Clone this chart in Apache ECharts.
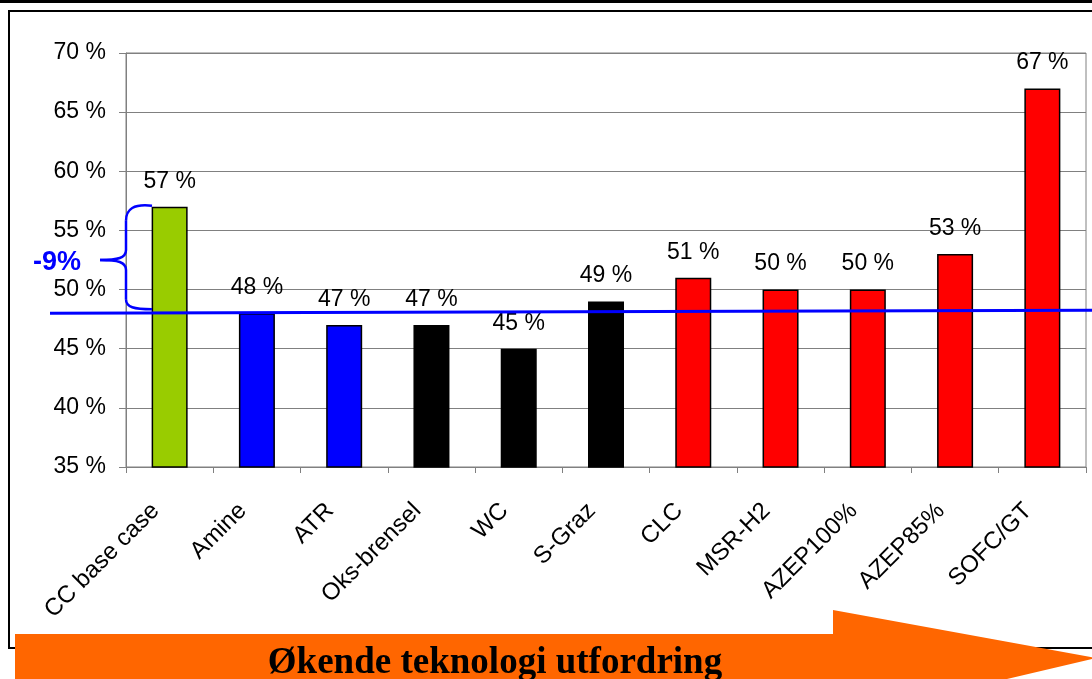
<!DOCTYPE html>
<html>
<head>
<meta charset="utf-8">
<script src="https://cdn.jsdelivr.net/npm/echarts@6/dist/echarts.min.js"></script>
<style>html,body{margin:0;padding:0;background:#fff}#c{width:1092px;height:679px}</style>
</head>
<body>
<div id="c"></div>
<script>
const categories = ['CC base case','Amine','ATR','Oks-brensel','WC','S-Graz','CLC','MSR-H2','AZEP100%','AZEP85%','SOFC/GT'];
const values = [57,48,47,47,45,49,51,50,50,53,67];
const barColors = ['#99CC00','#0000FF','#0000FF','#000000','#000000','#000000','#FF0000','#FF0000','#FF0000','#FF0000','#FF0000'];
const yTicks = [35,40,45,50,55,60,65,70];
const refLevel = 48;
const baseCase = 57;
const diffLabel = '-9%';
const arrowText = 'Økende teknologi utfordring';

const chart = echarts.init(document.getElementById('c'));
const option = {
  animation: false,
  grid: {left:126, right:6, top:53, bottom:212, show:true, borderColor:'#808080', borderWidth:1},
  xAxis: {
    type:'category', data:categories,
    axisLine:{lineStyle:{color:'#808080'}},
    axisTick:{show:true, length:6, lineStyle:{color:'#808080'}},
    axisLabel:{rotate:45, fontSize:24, color:'#000', fontFamily:'Liberation Sans, Arial', margin:26, interval:0, padding:[0,20,0,0]}
  },
  yAxis: {
    type:'value', min:yTicks[0], max:yTicks[yTicks.length-1], interval:5,
    axisLine:{show:true, lineStyle:{color:'#808080'}},
    axisTick:{show:true, length:7, lineStyle:{color:'#808080'}},
    axisLabel:{formatter:'{value} %', fontSize:23, color:'#000', fontFamily:'Liberation Sans, Arial', margin:20},
    splitLine:{lineStyle:{color:'#808080', width:1}}
  },
  series: [{
    type:'bar', barWidth:36,
    data: values.map((v,i)=>({value:v, itemStyle:{color:barColors[i]}})),
    itemStyle:{borderColor:'#000', borderWidth:1.5},
    label:{show:true, position:'top', distance:14, formatter:'{c} %', fontSize:23, color:'#000', fontFamily:'Liberation Sans, Arial'}
  }]
};
chart.setOption(option);

const yRef = chart.convertToPixel({yAxisIndex:0}, refLevel);
const yRefR = chart.convertToPixel({yAxisIndex:0}, refLevel+0.25);
const yTop = chart.convertToPixel({yAxisIndex:0}, baseCase);
const yMid = (yRef + yTop)/2;
const bx = 126, bl = 100, br = 152;
const braceStyle = {fill:'none', stroke:'#0000FF', lineWidth:2.5};

chart.setOption({
  graphic: [
    {type:'rect', shape:{x:0,y:0,width:1092,height:3}, style:{fill:'#000'}, z:10},
    {type:'rect', shape:{x:9,y:11,width:1100,height:637}, style:{fill:'none', stroke:'#000', lineWidth:2}, z:1},
    {type:'line', shape:{x1:50, y1:yRef, x2:1092, y2:yRefR}, style:{stroke:'#0000FF', lineWidth:3}, z:20},
    {type:'bezierCurve', shape:{x1:br,y1:yTop-1, cpx1:134,cpy1:yTop-3, cpx2:bx,cpy2:yTop+2, x2:bx,y2:yTop+14}, style:braceStyle, z:20},
    {type:'line', shape:{x1:bx,y1:yTop+14, x2:bx,y2:yMid-10}, style:braceStyle, z:20},
    {type:'bezierCurve', shape:{x1:bx,y1:yMid-10, cpx1:bx,cpy1:yMid-2, cpx2:bx-8,cpy2:yMid, x2:bl,y2:yMid}, style:braceStyle, z:20},
    {type:'bezierCurve', shape:{x1:bl,y1:yMid, cpx1:bx-8,cpy1:yMid, cpx2:bx,cpy2:yMid+2, x2:bx,y2:yMid+10}, style:braceStyle, z:20},
    {type:'line', shape:{x1:bx,y1:yMid+10, x2:bx,y2:yRef-14}, style:braceStyle, z:20},
    {type:'bezierCurve', shape:{x1:bx,y1:yRef-14, cpx1:bx,cpy1:yRef-6, cpx2:134,cpy2:yRef-4, x2:br,y2:yRef-4}, style:braceStyle, z:20},
    {type:'text', x:57, y:yMid+3, style:{text:diffLabel, fill:'#0000FF', font:'bold 27px Liberation Sans, Arial', textAlign:'center', textVerticalAlign:'middle'}, z:20},
    {type:'polygon', shape:{points:[[15,634],[833,634],[833,610],[1096,658],[1007,679],[962,690],[15,690]]}, style:{fill:'#FF6600'}, z:30},
    {type:'text', x:495, y:663, style:{text:arrowText, fill:'#000', font:'bold 37px Liberation Serif, Times New Roman', textAlign:'center', textVerticalAlign:'middle'}, z:31}
  ]
});
</script>
</body>
</html>
